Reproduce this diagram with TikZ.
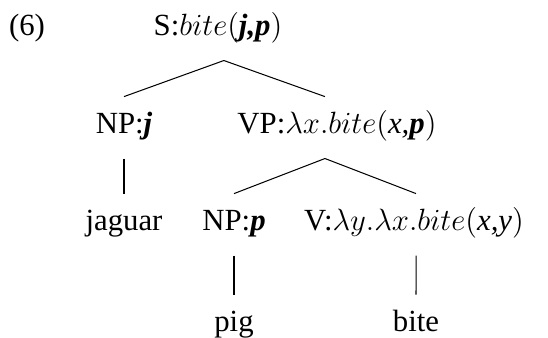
\documentclass[tikz,border=0pt]{standalone}
\usepackage{fontspec}
\setmainfont{Liberation Serif}
\newcommand{\bi}[1]{\mbox{\bfseries\itshape #1}}
\newcommand{\ti}[1]{\mbox{\itshape #1}}

\begin{document}
\begin{tikzpicture}[x=0.39pt,y=-0.39pt,
  cat/.style={anchor=base,inner sep=0pt,text height=14pt,text depth=9.75pt,font=\fontsize{12}{14}\selectfont}]
\useasboundingbox (0,0) rectangle (548,337);
\node[cat] (ex) at (27,35) {(6)};
\node[cat] (s) at (218,35) {S:$bite(\bi{j,p})$};
\node[cat] (npj) at (124,133) {NP:\bi{j}};
\node[cat] (vp) at (337,133) {VP:$\lambda x.bite(\ti{x,}\bi{p})$};
\node[cat] (jag) at (124,230) {jaguar};
\node[cat] (npp) at (234,230) {NP:\bi{p}};
\node[cat] (v) at (414,230) {V:$\lambda y.\lambda x.bite(\ti{x,y})$};
\node[cat] (pig) at (234,331) {pig};
\node[cat] (bite) at (416,331) {bite};
% branches
\draw ([xshift=2.3pt]s.south) -- (npj.north);
\draw ([xshift=2.3pt]s.south) -- ([xshift=-4.7pt]vp.north);
\draw (npj.south) -- (jag.north);
\draw ([xshift=-4.7pt]vp.south) -- (npp.north);
\draw ([xshift=-4.7pt]vp.south) -- ([xshift=0.8pt]v.north);
\draw (npp.south) -- (pig.north);
\draw ([xshift=0.8pt]v.south) -- (bite.north);
\end{tikzpicture}
\end{document}
